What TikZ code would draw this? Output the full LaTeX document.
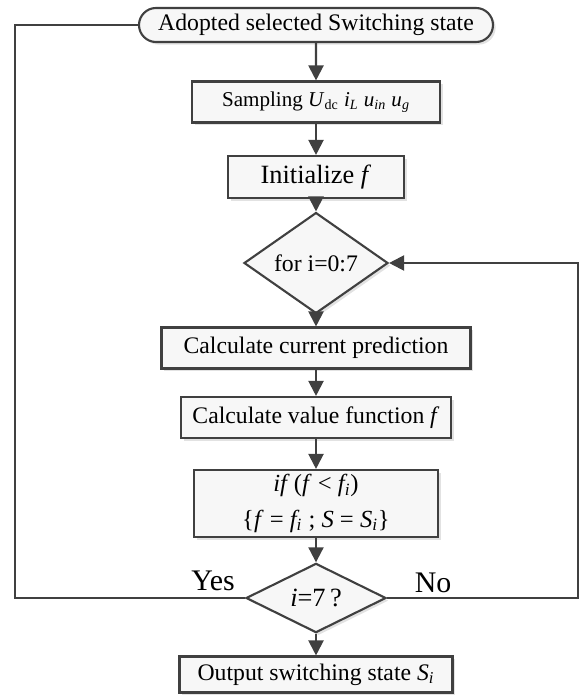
\documentclass[tikz,border=0pt]{standalone}
\usepackage{fontspec}
\setmainfont{Liberation Serif}
\usetikzlibrary{positioning, arrows.meta, shapes.geometric, shapes.misc, shadows}
\definecolor{linec}{HTML}{404040}

\begin{document}
\begin{tikzpicture}[
  box/.style={draw=linec, line width=1.2pt, fill=gray!6, inner sep=0pt, align=center,
    drop shadow={shadow xshift=1.5pt, shadow yshift=-1.5pt, fill=gray!45}},
  decide/.style={diamond, draw=linec, line width=1.2pt, fill=gray!6, inner sep=0pt, align=center,
    drop shadow={shadow xshift=1.5pt, shadow yshift=-1.5pt, fill=gray!45}},
  label/.style={font=\fontsize{17}{19}\selectfont},
  arrow/.style={-{Triangle[length=3mm, width=3mm]}, line width=1.2pt, draw=linec},
  line/.style={line width=1.2pt, draw=linec}
]
  \useasboundingbox (0,0) rectangle (11.7,-13.92);

  % start of the loop
  \node[box, rounded rectangle, minimum width=7.08cm, minimum height=0.68cm, font=\fontsize{13.5}{15}\selectfont] (start) at (6.32,-0.5) {Adopted selected Switching state};

  % sampling and initial value
  \node[box, minimum width=4.96cm, minimum height=0.82cm, font=\fontsize{12}{14}\selectfont] (samp) at (6.32,-2.04)
    {Sampling \textit{U}\textsubscript{dc} \textit{i\textsubscript{L}} \textit{u\textsubscript{in}} \textit{u\textsubscript{g}}};
  \node[box, minimum width=3.52cm, minimum height=0.84cm, font=\fontsize{15}{17}\selectfont] (init) at (6.32,-3.54) {Initialize \textit{f}};

  % loop over the states
  \node[decide, minimum width=2.88cm, minimum height=1.4cm, font=\fontsize{13.5}{15}\selectfont] (loop) at (6.32,-5.26) {for i=0:7};
  \node[box, minimum width=6.18cm, minimum height=0.82cm, font=\fontsize{13.5}{15}\selectfont] (pred) at (6.32,-6.96) {Calculate current prediction};
  \node[box, minimum width=5.4cm, minimum height=0.82cm, font=\fontsize{13.5}{15}\selectfont] (cost) at (6.32,-8.35) {Calculate value function \textit{f}};
  \node[box, minimum width=4.88cm, minimum height=1.34cm, font=\fontsize{14}{20}\selectfont] (cmp) at (6.32,-10.07)
    {\textit{if}\,(\textit{f} < \textit{f\textsubscript{i}})\\ \{\textit{f} = \textit{f\textsubscript{i}} ; \textit{S} = \textit{S\textsubscript{i}}\}};
  \node[decide, minimum width=2.8cm, minimum height=1.24cm, font=\fontsize{15}{17}\selectfont] (check) at (6.32,-11.96) {\textit{i}=7\,?};

  % result
  \node[box, minimum width=5.46cm, minimum height=0.72cm, font=\fontsize{13.5}{15}\selectfont] (out) at (6.32,-13.49) {Output switching state \textit{S\textsubscript{i}}};

  % branch labels
  \node[label] (yes) at (4.26,-11.62) {Yes};
  \node[label] (no) at (8.66,-11.66) {No};

  % corners of the feedback lines
  \coordinate (lcorner) at (0.3,-11.96);
  \coordinate (rcorner) at (11.56,-11.96);

  % main flow
  \draw[arrow] (start) -- (samp);
  \draw[arrow] (samp) -- (init);
  \draw[arrow] (init) -- (loop);
  \draw[arrow] (loop) -- (pred);
  \draw[arrow] (pred) -- (cost);
  \draw[arrow] (cost) -- (cmp);
  \draw[arrow] (cmp) -- (check);
  \draw[arrow] (check) -- (out);

  % feedback lines
  \draw[line] (check.west) -- (lcorner) |- (start.west);
  \draw[arrow] (check.east) -- (rcorner) |- (loop.east);
\end{tikzpicture}
\end{document}
